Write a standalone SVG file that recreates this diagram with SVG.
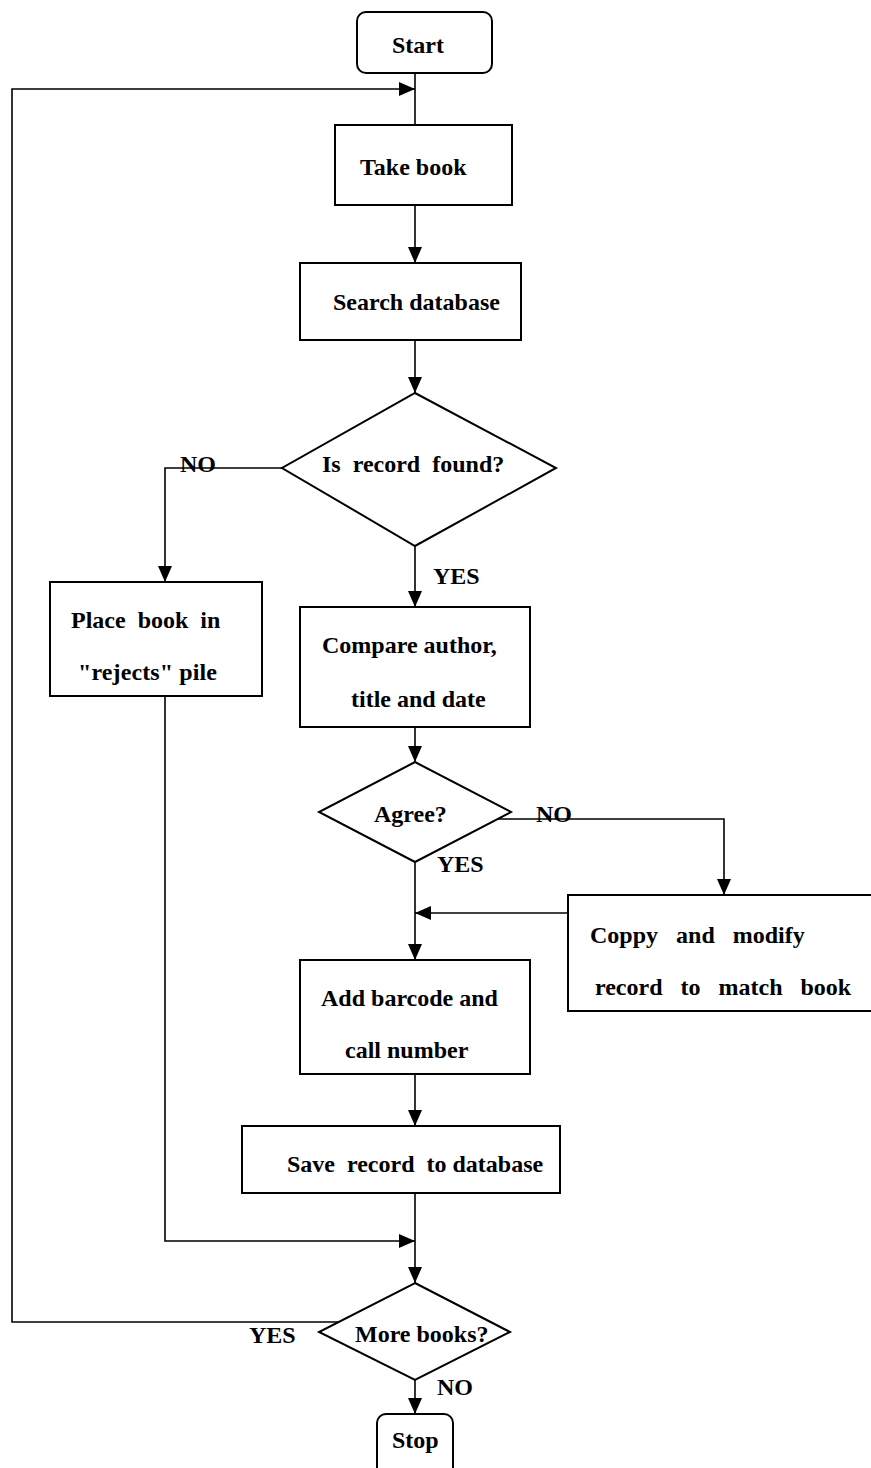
<svg xmlns="http://www.w3.org/2000/svg" width="871" height="1468" viewBox="0 0 871 1468">
  <style>
    .box { fill: #fff; stroke: #000; stroke-width: 2; }
    .line { fill: none; stroke: #000; stroke-width: 1.6; }
    .arrow { fill: none; stroke: #000; stroke-width: 1.6; marker-end: url(#head); }
    text { font-family: "Liberation Serif", "Times New Roman", serif; font-weight: bold; font-size: 24px; fill: #000; white-space: pre; }
  </style>
  <defs>
    <marker id="head" markerUnits="userSpaceOnUse" markerWidth="16" markerHeight="14" refX="16" refY="7" orient="auto">
      <path d="M0,0 L16,7 L0,14 Z" fill="#000"/>
    </marker>
  </defs>

  <rect width="871" height="1468" fill="#fff"/>

  <!-- connectors -->
  <g id="connectors">
    <path class="line" d="M415,73 V125"/>
    <path class="arrow" d="M415,205 V263"/>
    <path class="arrow" d="M415,340 V393"/>
    <path class="arrow" d="M282,468 H165 V582"/>
    <path class="arrow" d="M415,546 V607"/>
    <path class="arrow" d="M415,727 V762"/>
    <path class="arrow" d="M492,819 H724 V895"/>
    <path class="arrow" d="M415,862 V960"/>
    <path class="arrow" d="M568,913 H415"/>
    <path class="arrow" d="M415,1074 V1126"/>
    <path class="line" d="M415,1193 V1241"/>
    <path class="arrow" d="M165,696 V1241 H415"/>
    <path class="arrow" d="M415,1241 V1283"/>
    <path class="arrow" d="M338,1322 H12 V89 H415"/>
    <path class="arrow" d="M415,1380 V1414"/>
  </g>

  <!-- edge labels -->
  <g id="labels">
    <text x="180" y="472">NO</text>
    <text x="433" y="584">YES</text>
    <text x="536" y="822">NO</text>
    <text x="437" y="872">YES</text>
    <text x="249" y="1343">YES</text>
    <text x="437" y="1395">NO</text>
  </g>

  <g id="start">
    <rect class="box" x="357" y="12" width="135" height="61" rx="9"/>
    <text x="392" y="53">Start</text>
  </g>

  <g id="take-book">
    <rect class="box" x="335" y="125" width="177" height="80"/>
    <text x="360" y="175">Take book</text>
  </g>

  <g id="search-database">
    <rect class="box" x="300" y="263" width="221" height="77"/>
    <text x="333" y="310">Search database</text>
  </g>

  <g id="record-found">
    <path class="box" d="M415,393 L556,468 L415,546 L282,468 Z"/>
    <text x="322" y="472">Is  record  found?</text>
  </g>

  <g id="rejects-pile">
    <rect class="box" x="50" y="582" width="212" height="114"/>
    <text x="71" y="628">Place  book  in</text>
    <text x="78" y="680" textLength="139">"rejects" pile</text>
  </g>

  <g id="compare">
    <rect class="box" x="300" y="607" width="230" height="120"/>
    <text x="322" y="653">Compare author,</text>
    <text x="351" y="707">title and date</text>
  </g>

  <g id="agree">
    <path class="box" d="M415,762 L511,812 L415,862 L319,812 Z"/>
    <text x="374" y="822">Agree?</text>
  </g>

  <g id="copy-modify">
    <rect class="box" x="568" y="895" width="312" height="116"/>
    <text x="590" y="943">Coppy   and   modify</text>
    <text x="595" y="995">record   to   match   book</text>
  </g>

  <g id="add-barcode">
    <rect class="box" x="300" y="960" width="230" height="114"/>
    <text x="321" y="1006">Add barcode and</text>
    <text x="345" y="1058">call number</text>
  </g>

  <g id="save-record">
    <rect class="box" x="242" y="1126" width="318" height="67"/>
    <text x="287" y="1172">Save  record  to database</text>
  </g>

  <g id="more-books">
    <path class="box" d="M415,1283 L510,1332 L415,1380 L319,1332 Z"/>
    <text x="355" y="1342">More books?</text>
  </g>

  <g id="stop">
    <rect class="box" x="377" y="1414" width="76" height="70" rx="9"/>
    <text x="392" y="1448">Stop</text>
  </g>
</svg>
